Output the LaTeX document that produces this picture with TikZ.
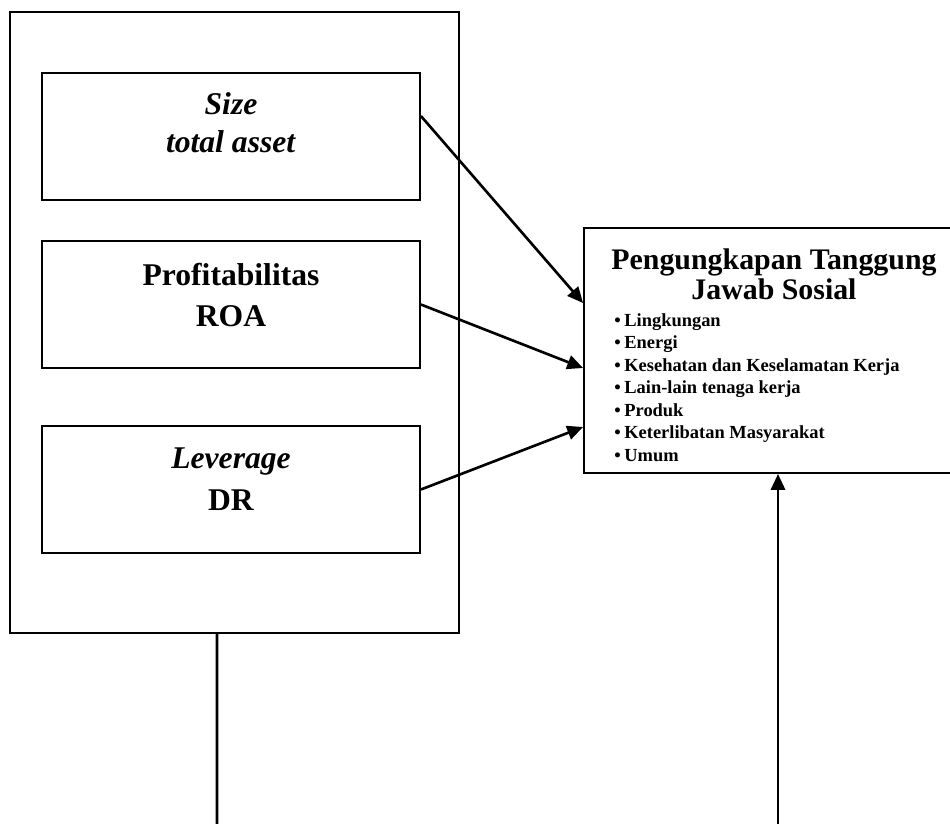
\documentclass[tikz,border=0pt]{standalone}
\usepackage{fontspec}
\setmainfont{Liberation Serif}
\usetikzlibrary{arrows.meta}

\newcommand{\poin}{\makebox[5.7pt][l]{\textbullet}}

\tikzset{
  varbox/.style={draw, line width=1.1pt, minimum width=7.56cm, minimum height=2.54cm, inner sep=0pt},
  vartext/.style={align=center, font=\fontsize{18}{23.8}\selectfont\bfseries},
  panah/.style={line width=1.5pt, -{Triangle[length=9pt,width=8pt]}}
}

\begin{document}
\begin{tikzpicture}[x=0.02cm, y=-0.02cm]
\useasboundingbox (0,0) rectangle (950,823);
% variabel independen
\node[draw, line width=1.1pt, minimum width=8.98cm, minimum height=12.42cm, inner sep=0pt] (luar) at (234.5,322.5) {};
\node[varbox] (size) at (231,136.5) {};
\node[varbox] (prof) at (231,304.5) {};
\node[varbox] (lev) at (231,489.5) {};
\node[vartext] (sizetxt) at (231,123) {\textit{Size}\\[-2.3pt]\textit{total asset}};
\node[vartext] (proftxt) at (231,295) {Profitabilitas\\ROA};
\node[vartext] (levtxt) at (231,479) {\textit{Leverage}\\DR};
% variabel dependen
\node[draw, line width=1.1pt, minimum width=7.76cm, minimum height=4.9cm, inner sep=0pt] (pts) at (778,350.5) {};
\node[align=center, font=\fontsize{17}{17}\selectfont\bfseries] (ptsjudul) at (774,274) {Pengungkapan Tanggung\\Jawab Sosial};
\node[anchor=north west, align=left, inner sep=0pt, font=\fontsize{10.5}{12.8}\selectfont\bfseries] (ptslist) at (614,313)
  {\poin Lingkungan\\\poin Energi\\\poin Kesehatan dan Keselamatan Kerja\\\poin Lain-lain tenaga kerja\\\poin Produk\\\poin Keterlibatan Masyarakat\\\poin Umum};
% panah
\draw[panah] ([yshift=0.41cm]size.east) -- ([yshift=0.95cm]pts.west);
\draw[panah] (prof.east) -- ([yshift=-0.35cm]pts.west);
\draw[panah] (lev.east) -- ([yshift=-1.53cm]pts.west);
\coordinate (bawahkiri) at (217,830);
\coordinate (bawahkanan) at (778,830);
\draw[line width=1.5pt] ([xshift=-0.35cm]luar.south) -- (bawahkiri);
\draw[panah] (bawahkanan) -- (pts.south);
\end{tikzpicture}
\end{document}
